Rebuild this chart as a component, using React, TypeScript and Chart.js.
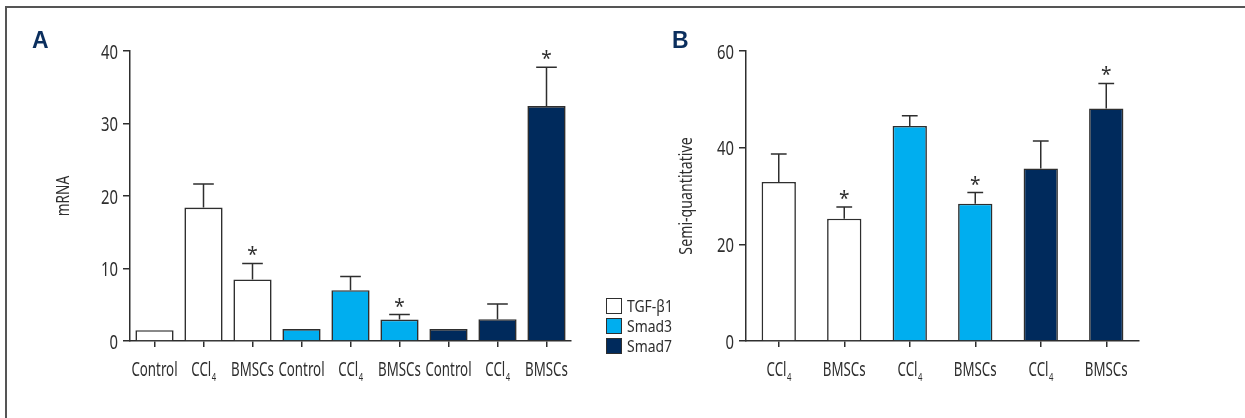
import React, { useEffect, useRef } from "react";
import { Chart, registerables } from "chart.js";

Chart.register(...registerables);

// ---------- Data ----------
const labelsA = ["Control", "CCl₄", "BMSCs", "Control", "CCl₄", "BMSCs", "Control", "CCl₄", "BMSCs"];
const tgfA = [1.5, 18.4, 8.5];
const tgfAErr = [0, 3.25, 2.2];
const tgfAStar = [false, false, true];
const smad3A = [1.65, 7.0, 2.95];
const smad3AErr = [0, 1.9, 0.7];
const smad3AStar = [false, false, true];
const smad7A = [1.65, 3.0, 32.4];
const smad7AErr = [0, 2.1, 5.35];
const smad7AStar = [false, false, true];
const ticksA = { min: 0, max: 40, step: 10 };

const labelsB = ["CCl₄", "BMSCs", "CCl₄", "BMSCs", "CCl₄", "BMSCs"];
const tgfB = [32.9, 25.3];
const tgfBErr = [5.8, 2.4];
const tgfBStar = [false, true];
const smad3B = [44.5, 28.4];
const smad3BErr = [2.1, 2.3];
const smad3BStar = [false, true];
const smad7B = [35.7, 48.1];
const smad7BErr = [5.7, 5.2];
const smad7BStar = [false, true];
const ticksB = { min: 0, max: 60, step: 20 };

const seriesNames = ["TGF-β1", "Smad3", "Smad7"];
const seriesColors = ["#ffffff", "#00aeef", "#002a5c"];

const FONT = "'Noto Sans', 'Open Sans', sans-serif";
const INK = "#2e2e2e";
const SUBS = "₀₁₂₃₄₅₆₇₈₉";

// condensed text with subscript digit support
function drawCondensed(ctx: any, text: string, x: number, y: number, size: number, sx: number, align: "left" | "center" | "right") {
  const segs: { t: string; sub: boolean }[] = [];
  for (const ch of text) {
    const si = SUBS.indexOf(ch);
    const sub = si >= 0;
    const t = sub ? String(si) : ch;
    const last = segs[segs.length - 1];
    if (last && last.sub === sub) last.t += t;
    else segs.push({ t, sub });
  }
  ctx.save();
  ctx.textBaseline = "alphabetic";
  ctx.textAlign = "left";
  let w = 0;
  const widths = segs.map((s) => {
    ctx.font = `${s.sub ? Math.round(size * 0.58) : size}px ${FONT}`;
    const m = ctx.measureText(s.t).width;
    w += m;
    return m;
  });
  const total = w * sx;
  const x0 = align === "left" ? x : align === "center" ? x - total / 2 : x - total;
  ctx.translate(x0, y);
  ctx.scale(sx, 1);
  let cx = 0;
  segs.forEach((s, i) => {
    ctx.font = `${s.sub ? Math.round(size * 0.58) : size}px ${FONT}`;
    ctx.fillText(s.t, cx + (s.sub ? 0.5 : 0), s.sub ? size * 0.3 : 0);
    cx += widths[i] + (s.sub ? 0.5 : 0);
  });
  ctx.restore();
}

// place a group's values in its slot of the full category list
function place<T>(vals: T[], group: number, n: number, per: number): (T | null)[] {
  const out: (T | null)[] = new Array(n).fill(null);
  vals.forEach((v, i) => (out[group * per + i] = v));
  return out;
}

const errorBarPlugin = {
  id: "errorBars",
  afterDatasetsDraw(chart: any, _args: any, opts: any) {
    const { ctx } = chart;
    const yScale = chart.scales.y;
    const errs: (number | null)[][] = opts.errors || [];
    const stars: (boolean | null)[][] = opts.stars || [];
    ctx.save();
    ctx.strokeStyle = INK;
    ctx.lineWidth = 1.5;
    ctx.fillStyle = INK;
    chart.data.datasets.forEach((ds: any, di: number) => {
      const meta = chart.getDatasetMeta(di);
      ds.data.forEach((v: number | null, i: number) => {
        if (v == null) return;
        const el = meta.data[i];
        const e = (errs[di] && errs[di][i]) || 0;
        const x = el.x;
        const w = el.width;
        const yv = yScale.getPixelForValue(v);
        const yt = yScale.getPixelForValue(v + e);
        if (e > 0) {
          const cap = w * opts.capRatio;
          ctx.beginPath();
          ctx.moveTo(x, yv);
          ctx.lineTo(x, yt);
          ctx.moveTo(x - cap / 2, yt);
          ctx.lineTo(x + cap / 2, yt);
          ctx.stroke();
        }
        if (stars[di] && stars[di][i]) {
          ctx.font = `19px ${FONT}`;
          ctx.textAlign = "center";
          ctx.textBaseline = "alphabetic";
          ctx.fillText("*", x, yt - 2);
        }
      });
    });
    ctx.restore();
  },
};

const annotPlugin = {
  id: "annot",
  afterDraw(chart: any, _args: any, opts: any) {
    const { ctx, chartArea } = chart;
    const xs = chart.scales.x;
    const ys = chart.scales.y;
    ctx.save();
    ctx.fillStyle = INK;
    // x tick labels
    chart.data.labels.forEach((lab: string, i: number) => {
      drawCondensed(ctx, lab, xs.getPixelForTick(i), 375.5, 19, 0.7, "center");
    });
    // y tick labels
    ys.ticks.forEach((t: any) => {
      drawCondensed(ctx, String(t.value), chartArea.left - 12, ys.getPixelForValue(t.value) + 7.5, 19, 0.78, "right");
    });
    // panel letter
    ctx.font = `bold 23px 'Liberation Sans', Arial, sans-serif`;
    ctx.fillStyle = "#0b2f5e";
    ctx.textAlign = "left";
    ctx.textBaseline = "alphabetic";
    ctx.fillText(opts.letter, opts.letterX, 48);
    // axis title
    ctx.fillStyle = INK;
    ctx.translate(opts.titleX, (chartArea.top + chartArea.bottom) / 2);
    ctx.rotate(-Math.PI / 2);
    drawCondensed(ctx, opts.title, 0, 6, 17.5, opts.titleSx, "center");
    ctx.restore();
  },
};

function makeConfig(p: {
  labels: string[];
  groups: number[][];
  errs: number[][];
  stars: boolean[][];
  ticks: { min: number; max: number; step: number };
  barPct: number;
  capRatio: number;
  yWidth: number;
  padRight: number;
  letter: string;
  letterX: number;
  title: string;
  titleX: number;
  titleSx: number;
}) {
  const n = p.labels.length;
  const per = n / 3;
  const datasets = p.groups.map((vals, g) => ({
    label: seriesNames[g],
    data: place(vals, g, n, per),
    backgroundColor: seriesColors[g],
    borderColor: INK,
    borderWidth: 1.6,
    borderSkipped: "bottom",
    categoryPercentage: 1,
    barPercentage: p.barPct,
  }));
  const errors = p.errs.map((vals, g) => place(vals, g, n, per));
  const stars = p.stars.map((vals, g) => place(vals, g, n, per));
  return {
    type: "bar",
    data: { labels: p.labels, datasets },
    options: {
      animation: false,
      responsive: false,
      devicePixelRatio: 1,
      layout: { padding: { left: 0, top: 51, right: p.padRight, bottom: 17 } },
      plugins: {
        legend: { display: false },
        tooltip: { enabled: false },
        errorBars: { errors, stars, capRatio: p.capRatio },
        annot: { letter: p.letter, letterX: p.letterX, title: p.title, titleX: p.titleX, titleSx: p.titleSx },
      },
      scales: {
        x: {
          stacked: true,
          grid: { display: true, drawOnChartArea: false, drawTicks: true, tickLength: 6, offset: false, color: INK, lineWidth: 1.5 },
          border: { display: true, color: INK, width: 1.5 },
          ticks: { display: false, autoSkip: false },
          afterFit: (s: any) => { s.height = 60; },
        },
        y: {
          stacked: true,
          min: p.ticks.min,
          max: p.ticks.max,
          grid: { display: true, drawOnChartArea: false, drawTicks: true, tickLength: 7, color: INK, lineWidth: 1.5 },
          border: { display: true, color: INK, width: 1.5 },
          ticks: { display: false, stepSize: p.ticks.step },
          afterFit: (s: any) => { s.width = p.yWidth; },
        },
      },
    },
    plugins: [errorBarPlugin, annotPlugin],
  } as any;
}

function ChartCanvas({ config, width, height, left }: { config: any; width: number; height: number; left: number }) {
  const ref = useRef<HTMLCanvasElement | null>(null);
  useEffect(() => {
    if (!ref.current) return;
    const c = new Chart(ref.current, config);
    return () => c.destroy();
  }, []);
  return (
    <canvas
      ref={ref}
      width={width}
      height={height}
      style={{ position: "absolute", left, top: 0, width, height }}
    />
  );
}

export default function App() {
  const cfgA = makeConfig({
    labels: labelsA,
    groups: [tgfA, smad3A, smad7A],
    errs: [tgfAErr, smad3AErr, smad7AErr],
    stars: [tgfAStar, smad3AStar, smad7AStar],
    ticks: ticksA,
    barPct: 0.78,
    capRatio: 0.54,
    yWidth: 130,
    padRight: 29,
    letter: "A",
    letterX: 32,
    title: "mRNA",
    titleX: 63,
    titleSx: 0.78,
  });
  const cfgB = makeConfig({
    labels: labelsB,
    groups: [tgfB, smad3B, smad7B],
    errs: [tgfBErr, smad3BErr, smad7BErr],
    stars: [tgfBStar, smad3BStar, smad7BStar],
    ticks: ticksB,
    barPct: 0.524,
    capRatio: 0.46,
    yWidth: 86,
    padRight: 106,
    letter: "B",
    letterX: 12,
    title: "Semi-quantitative",
    titleX: 26,
    titleSx: 0.81,
  });
  return (
    <div style={{ position: "absolute", left: 0, top: 0, width: 1245, height: 418, overflow: "hidden", background: "#fff" }}>
      <div style={{ position: "absolute", left: 5, top: 6, width: 1300, height: 500, borderTop: "2px solid #555", borderLeft: "2px solid #555" }} />
      <ChartCanvas config={cfgA} width={600} height={418} left={0} />
      <ChartCanvas config={cfgB} width={585} height={418} left={660} />
      <div style={{ position: "absolute", left: 606, top: 296, fontFamily: FONT, fontSize: 17, color: INK, lineHeight: "20px" }}>
        {seriesNames.map((name, i) => (
          <div key={name} style={{ display: "flex", alignItems: "center", height: 20, whiteSpace: "nowrap" }}>
            <span style={{ display: "inline-block", boxSizing: "border-box", width: 16, height: 16, border: `1.5px solid ${INK}`, background: seriesColors[i], marginRight: 5, flex: "none" }} />
            <span style={{ display: "inline-block", transform: "scaleX(0.82)", transformOrigin: "left center" }}>{name}</span>
          </div>
        ))}
      </div>
    </div>
  );
}
